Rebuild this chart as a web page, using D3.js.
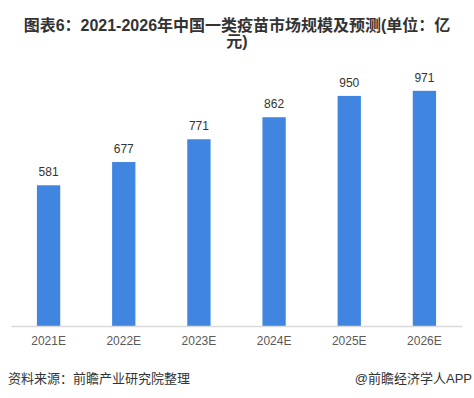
<!DOCTYPE html>
<html>
<head>
<meta charset="utf-8">
<script src="https://cdn.jsdelivr.net/npm/d3@7"></script>
<style>
  body { margin: 0; background: #fff; }
  svg { display: block; }
</style>
</head>
<body>
<svg id="chart" width="474" height="398"></svg>
<script>
// data
const years = ["2021E", "2022E", "2023E", "2024E", "2025E", "2026E"];
const marketSize = [581, 677, 771, 862, 950, 971];
const titleLines = ["图表6：2021-2026年中国一类疫苗市场规模及预测(单位：亿", "元)"];
const sourceText = "资料来源：前瞻产业研究院整理";
const brandText = "@前瞻经济学人APP";

const width = 474;
const height = 398;
const font = "'Liberation Sans', 'Noto Sans CJK SC', sans-serif";

const svg = d3.select("#chart");

// title
svg.append("text")
    .attr("x", width / 2)
    .attr("text-anchor", "middle")
    .style("font-family", font)
    .style("font-size", "16px")
    .style("font-weight", "bold")
    .attr("fill", "#333")
    .selectAll("tspan")
    .data(titleLines)
    .enter()
    .append("tspan")
    .attr("x", width / 2)
    .attr("y", (d, i) => 31 + i * 16)
    .text(d => d);

const x = d3.scaleBand()
    .domain(years)
    .range([11, 462])
    .paddingInner(0.69)
    .paddingOuter(0.345);

// baseline 326, 971 -> top at 91
const y = d3.scaleLinear()
    .domain([0, 1000])
    .range([326, 326 - 242.2]);

// bars
svg.selectAll(".bar")
    .data(marketSize)
    .enter()
    .append("rect")
    .attr("class", "bar")
    .attr("x", (d, i) => x(years[i]))
    .attr("y", d => y(d))
    .attr("width", x.bandwidth())
    .attr("height", d => y(0) - y(d))
    .attr("fill", "#4086e0");

// value labels
svg.selectAll(".val")
    .data(marketSize)
    .enter()
    .append("text")
    .attr("class", "val")
    .attr("x", (d, i) => x(years[i]) + x.bandwidth() / 2)
    .attr("y", d => y(d) - 9)
    .attr("text-anchor", "middle")
    .style("font-family", font)
    .style("font-size", "12px")
    .attr("fill", "#333")
    .text(d => d);

// x axis
const xAxis = svg.append("g")
    .attr("transform", "translate(0,326)")
    .call(d3.axisBottom(x).tickSize(0).tickPadding(10));
xAxis.select(".domain").attr("stroke", "#d9d9d9").attr("stroke-width", 1.5);
xAxis.selectAll("text")
    .style("font-family", font)
    .style("font-size", "12px")
    .attr("fill", "#595959");

// footer
svg.append("text")
    .attr("x", 8)
    .attr("y", 383)
    .style("font-family", font)
    .style("font-size", "13px")
    .attr("fill", "#333")
    .text(sourceText);

svg.append("text")
    .attr("x", 472)
    .attr("y", 383)
    .attr("text-anchor", "end")
    .style("font-family", font)
    .style("font-size", "13px")
    .attr("fill", "#333")
    .text(brandText);
</script>
</body>
</html>
